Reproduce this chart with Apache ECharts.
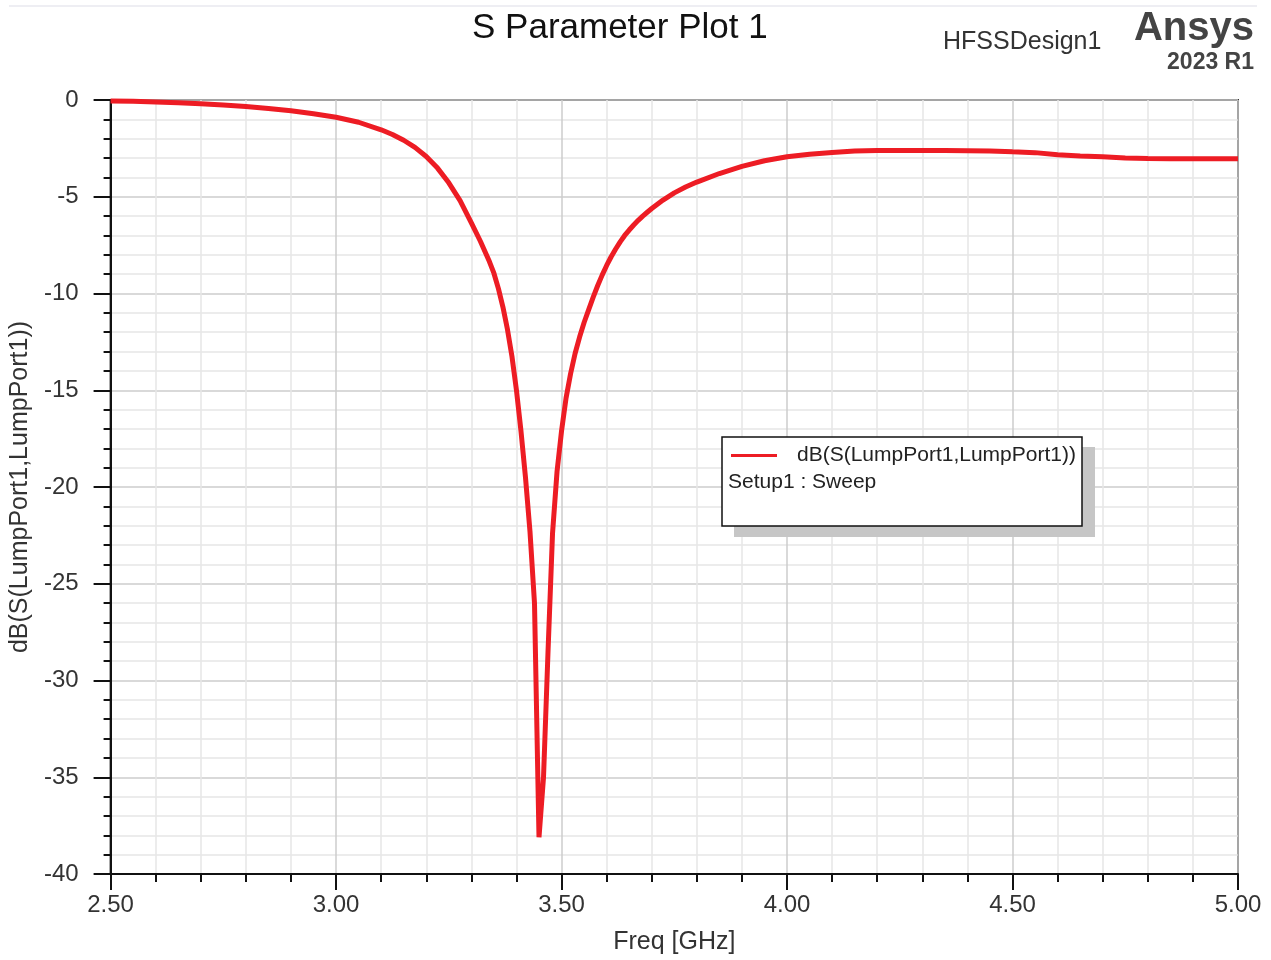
<!DOCTYPE html>
<html>
<head>
<meta charset="utf-8">
<script src="https://cdn.jsdelivr.net/npm/echarts@6/dist/echarts.min.js"></script>
<style>
html,body{margin:0;padding:0;background:#fff;}
#chart{width:1271px;height:960px;}
</style>
</head>
<body>
<div id="chart"></div>
<script>
// Frequency samples (GHz)
const freq = [
  2.50, 2.55, 2.60, 2.65, 2.70, 2.75, 2.80, 2.85, 2.90, 2.95,
  3.00, 3.05, 3.10, 3.125, 3.15, 3.175, 3.20, 3.225, 3.25, 3.275,
  3.30, 3.32, 3.34, 3.35, 3.36, 3.37, 3.38, 3.39, 3.40, 3.41,
  3.42, 3.43, 3.44, 3.45, 3.46, 3.47, 3.48, 3.49, 3.50, 3.51,
  3.52, 3.53, 3.54, 3.55, 3.56, 3.57, 3.58, 3.59, 3.60, 3.61,
  3.62, 3.63, 3.64, 3.65, 3.66, 3.67, 3.68, 3.69, 3.70, 3.725,
  3.75, 3.775, 3.80, 3.85, 3.90, 3.95, 4.00, 4.05, 4.10, 4.15,
  4.20, 4.25, 4.30, 4.35, 4.40, 4.45, 4.50, 4.55, 4.60, 4.65,
  4.70, 4.75, 4.80, 4.85, 4.90, 4.95, 5.00
];
// dB(S(LumpPort1,LumpPort1)) values
const s11 = [
  -0.05, -0.07, -0.10, -0.14, -0.19, -0.26, -0.34, -0.44, -0.56, -0.71,
  -0.89, -1.15, -1.54, -1.78, -2.08, -2.45, -2.92, -3.52, -4.28, -5.20,
  -6.35, -7.30, -8.35, -8.95, -9.75, -10.70, -11.85, -13.25, -15.0, -17.1,
  -19.5, -22.3, -26.0, -38.1, -35.0, -28.5, -22.4, -19.2, -17.1, -15.4,
  -14.15, -13.1, -12.25, -11.5, -10.85, -10.2, -9.60, -9.05, -8.55, -8.10,
  -7.70, -7.33, -7.00, -6.72, -6.46, -6.22, -6.00, -5.80, -5.61, -5.17,
  -4.80, -4.50, -4.24, -3.80, -3.43, -3.14, -2.93, -2.80, -2.71, -2.64,
  -2.61, -2.61, -2.61, -2.61, -2.62, -2.63, -2.68, -2.72, -2.83, -2.90,
  -2.93, -3.00, -3.02, -3.03, -3.03, -3.04, -3.04
];
const xTicks = {min: 2.5, max: 5.0, step: 0.5};
const yTicks = {min: -40, max: 0, step: 5};
const seriesName = 'dB(S(LumpPort1,LumpPort1))';
const setupLabel = 'Setup1 : Sweep';

const FONT = '"Liberation Sans", Arial, Helvetica, sans-serif';
const chart = echarts.init(document.getElementById('chart'));
const data = freq.map((f, i) => [f, s11[i]]);

chart.setOption({
  backgroundColor: '#ffffff',
  animation: false,
  textStyle: {fontFamily: FONT},
  grid: {left: 110, right: 33, top: 100, bottom: 83, show: true,
         borderColor: '#333', borderWidth: 2, backgroundColor: 'transparent'},
  xAxis: {
    type: 'value', min: xTicks.min, max: xTicks.max, interval: xTicks.step,
    name: 'Freq [GHz]', nameLocation: 'middle', nameGap: 56,
    nameTextStyle: {fontSize: 25, color: '#333', fontFamily: FONT},
    axisLine: {show: true, onZero: false, lineStyle: {color: '#111', width: 2}},
    axisTick: {show: true, length: 16, lineStyle: {color: '#111', width: 2}},
    minorTick: {show: true, splitNumber: 5, length: 8, lineStyle: {color: '#111', width: 2}},
    axisLabel: {fontSize: 24, color: '#333', margin: 19, fontFamily: FONT,
                formatter: v => v.toFixed(2)},
    splitLine: {show: true, lineStyle: {color: '#cccccc', width: 1.5}},
    minorSplitLine: {show: true, lineStyle: {color: '#e6e6e6', width: 1.5}}
  },
  yAxis: {
    type: 'value', min: yTicks.min, max: yTicks.max, interval: yTicks.step,
    name: seriesName, nameLocation: 'middle', nameGap: 74, nameRotate: 90,
    nameTextStyle: {fontSize: 25, color: '#333', fontFamily: FONT},
    axisLine: {show: true, onZero: false, lineStyle: {color: '#111', width: 2}},
    axisTick: {show: true, length: 17, lineStyle: {color: '#111', width: 2}},
    minorTick: {show: true, splitNumber: 5, length: 7, lineStyle: {color: '#111', width: 2}},
    axisLabel: {fontSize: 24, color: '#333', margin: 32, fontFamily: FONT},
    splitLine: {show: true, lineStyle: {color: '#cccccc', width: 1.5}},
    minorSplitLine: {show: true, lineStyle: {color: '#e6e6e6', width: 1.5}}
  },
  legend: {
    show: true, data: [seriesName], left: 731, top: 445, padding: 0,
    icon: 'rect', itemWidth: 46, itemHeight: 3, z: 10,
    textStyle: {fontSize: 21, color: '#222', fontFamily: FONT, padding: [0, 0, 0, 15]}
  },
  graphic: [
    {type: 'line', z: 1, shape: {x1: 9, y1: 6, x2: 1257, y2: 6}, style: {stroke: '#eeeef3', lineWidth: 2}},
    {type: 'text', x: 472, y: 28, z: 5, style: {text: 'S Parameter Plot 1', font: '35px ' + FONT, fill: '#111', textAlign: 'left', textVerticalAlign: 'middle'}},
    {type: 'text', x: 943, y: 42, z: 5, style: {text: 'HFSSDesign1', font: '25px ' + FONT, fill: '#333', textAlign: 'left', textVerticalAlign: 'middle'}},
    {type: 'text', x: 1254, y: 29, z: 5, style: {text: 'Ansys', font: 'bold 40px ' + FONT, fill: '#444', textAlign: 'right', textVerticalAlign: 'middle'}},
    {type: 'text', x: 1254, y: 63, z: 5, style: {text: '2023 R1', font: 'bold 23px ' + FONT, fill: '#444', textAlign: 'right', textVerticalAlign: 'middle'}},
    {type: 'rect', z: 8, shape: {x: 734, y: 447, width: 361, height: 90}, style: {fill: '#c6c6c6'}},
    {type: 'rect', z: 9, shape: {x: 722, y: 437, width: 360, height: 89}, style: {fill: '#ffffff', stroke: '#111', lineWidth: 1.5}},
    {type: 'text', x: 728, y: 482, z: 10, style: {text: setupLabel, font: '21px ' + FONT, fill: '#222', textAlign: 'left', textVerticalAlign: 'middle'}}
  ],
  series: [{
    name: seriesName, type: 'line', data: data, showSymbol: false, smooth: false,
    color: '#ed1c24', lineStyle: {color: '#ed1c24', width: 5}, z: 3, clip: true
  }]
});
</script>
</body>
</html>
